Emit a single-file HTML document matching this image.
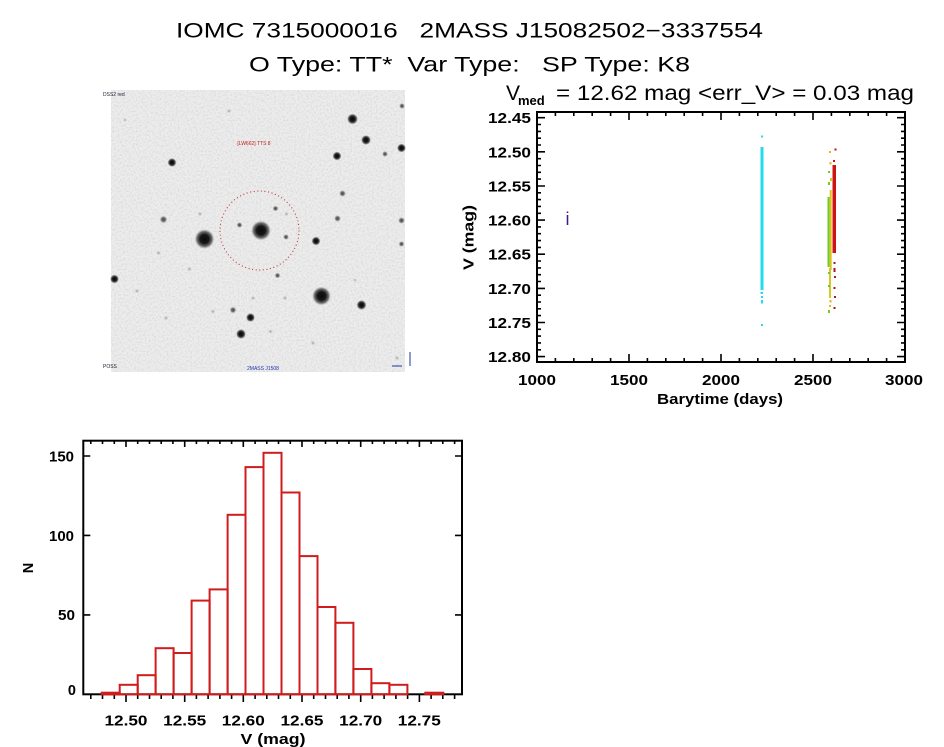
<!DOCTYPE html>
<html><head><meta charset="utf-8"><style>
html,body{margin:0;padding:0;background:#fff;}
svg{display:block;}
text{font-family:"Liberation Sans",Arial,sans-serif;}
</style></head><body>
<svg width="944" height="747" viewBox="0 0 944 747" xmlns="http://www.w3.org/2000/svg">
<defs>
<radialGradient id="sd"><stop offset="0" stop-color="#0a0a0a"/><stop offset="0.45" stop-color="#181818"/><stop offset="0.75" stop-color="#444" stop-opacity="0.75"/><stop offset="1" stop-color="#999" stop-opacity="0"/></radialGradient>
<radialGradient id="sm"><stop offset="0" stop-color="#444"/><stop offset="0.5" stop-color="#666" stop-opacity="0.9"/><stop offset="1" stop-color="#aaa" stop-opacity="0"/></radialGradient>
<radialGradient id="sf"><stop offset="0" stop-color="#9a9a9a"/><stop offset="1" stop-color="#c8c8c8" stop-opacity="0"/></radialGradient>
<filter id="nz" x="0" y="0" width="100%" height="100%"><feTurbulence type="fractalNoise" baseFrequency="0.55" numOctaves="2" seed="5"/><feColorMatrix type="matrix" values="0 0 0 0 0.45  0 0 0 0 0.45  0 0 0 0 0.45  0 0 0 0.75 -0.3"/></filter>
</defs>

<!-- Titles -->
<text x="176" y="37.5" font-size="21" textLength="587" lengthAdjust="spacingAndGlyphs" style="white-space:pre">IOMC 7315000016   2MASS J15082502−3337554</text>
<text x="249" y="71.5" font-size="21" textLength="441" lengthAdjust="spacingAndGlyphs" style="white-space:pre">O Type: TT*  Var Type:   SP Type: K8</text>

<!-- Sky image -->
<rect x="111" y="90" width="294" height="282" fill="#ededed"/>
<rect x="111" y="90" width="294" height="282" filter="url(#nz)"/>
<g>
<circle cx="261" cy="230.5" r="10" fill="url(#sd)"/>
<circle cx="204.5" cy="239" r="10" fill="url(#sd)"/>
<circle cx="321.5" cy="296" r="9.5" fill="url(#sd)"/>
<circle cx="352.5" cy="119" r="5.5" fill="url(#sd)"/>
<circle cx="366" cy="140" r="5" fill="url(#sd)"/>
<circle cx="337" cy="156" r="4.5" fill="url(#sd)"/>
<circle cx="401.5" cy="148" r="4.5" fill="url(#sd)"/>
<circle cx="172" cy="162.5" r="4.5" fill="url(#sd)"/>
<circle cx="316" cy="241" r="4.5" fill="url(#sd)"/>
<circle cx="361.5" cy="305" r="5" fill="url(#sd)"/>
<circle cx="250.5" cy="317.5" r="4.5" fill="url(#sd)"/>
<circle cx="241" cy="334" r="5" fill="url(#sd)"/>
<circle cx="114.5" cy="279" r="4.5" fill="url(#sd)"/>
<circle cx="163.5" cy="219.5" r="4" fill="url(#sm)"/>
<circle cx="342.5" cy="193.5" r="3.5" fill="url(#sm)"/>
<circle cx="337.5" cy="218.5" r="3.5" fill="url(#sm)"/>
<circle cx="401.5" cy="220.5" r="3.5" fill="url(#sm)"/>
<circle cx="233" cy="310" r="3.5" fill="url(#sm)"/>
<circle cx="275.5" cy="208.5" r="3" fill="url(#sm)"/>
<circle cx="286" cy="237" r="3" fill="url(#sm)"/>
<circle cx="239.5" cy="225" r="3" fill="url(#sm)"/>
<circle cx="277.5" cy="275.5" r="3" fill="url(#sm)"/>
<circle cx="401.5" cy="244" r="3" fill="url(#sm)"/>
<circle cx="402" cy="106" r="3" fill="url(#sm)"/>
<circle cx="385" cy="154" r="3" fill="url(#sm)"/>
<circle cx="200" cy="214" r="2.5" fill="url(#sf)"/>
<circle cx="286.5" cy="214" r="2.5" fill="url(#sf)"/>
<circle cx="137" cy="291" r="2.5" fill="url(#sf)"/>
<circle cx="158.5" cy="253" r="2.5" fill="url(#sf)"/>
<circle cx="189.5" cy="269" r="2.5" fill="url(#sf)"/>
<circle cx="229" cy="111" r="2.5" fill="url(#sf)"/>
<circle cx="213" cy="311.5" r="2.5" fill="url(#sf)"/>
<circle cx="270.5" cy="331.5" r="2.5" fill="url(#sf)"/>
<circle cx="253" cy="298" r="2.5" fill="url(#sf)"/>
<circle cx="285" cy="298" r="2.5" fill="url(#sf)"/>
<circle cx="166" cy="318" r="2.5" fill="url(#sf)"/>
<circle cx="397" cy="358" r="2.5" fill="url(#sf)"/>
<circle cx="313" cy="343" r="2.5" fill="url(#sf)"/>
<circle cx="125" cy="120" r="2" fill="url(#sf)"/>
<circle cx="355" cy="280" r="2" fill="url(#sf)"/>
</g>
<circle cx="259.5" cy="230.5" r="39.5" fill="none" stroke="#c02828" stroke-width="1" stroke-dasharray="1 2.6"/>
<text x="254" y="145" font-size="5" fill="#c02020" text-anchor="middle">[LW662] TTS 8</text>
<text x="103" y="96" font-size="5" fill="#223" >DSS2 red</text>
<text x="247" y="370" font-size="5" fill="#2233aa">2MASS J1508</text>
<text x="103" y="368" font-size="5" fill="#223">POSS</text>
<path d="M392 366h10M410 352v14" stroke="#2233aa" stroke-width="1" fill="none"/>

<!-- Light curve -->
<text x="506" y="100" font-size="21">V</text>
<text x="518" y="105" font-size="13" font-weight="bold">med</text>
<text x="556" y="100" font-size="21" textLength="358" lengthAdjust="spacingAndGlyphs">= 12.62 mag &lt;err_V&gt; = 0.03 mag</text>

<!-- data -->
<g>
<rect x="760.5" y="147" width="3" height="143" fill="#22dcec"/>
<rect x="761" y="135.5" width="2" height="2" fill="#22dcec"/>
<rect x="760.5" y="292" width="2.5" height="2" fill="#22dcec"/>
<rect x="761" y="296" width="2" height="2" fill="#22dcec"/>
<rect x="761" y="300" width="2" height="3.5" fill="#22dcec"/>
<rect x="761" y="324" width="2" height="2" fill="#22dcec"/>

<rect x="827.5" y="197" width="2.2" height="70" fill="#6fcc22"/>
<rect x="829.7" y="190" width="2" height="80" fill="#e3c020"/>
<rect x="832.5" y="165" width="3.5" height="88" fill="#cc1414"/>
<rect x="829" y="151" width="2" height="2" fill="#efb030"/>
<rect x="829.5" y="162" width="2" height="2.5" fill="#efb030"/>
<rect x="828" y="171" width="2" height="2" fill="#6fcc22"/>
<rect x="828" y="182" width="2" height="3" fill="#6fcc22"/>
<rect x="830" y="178" width="2" height="3" fill="#e3c020"/>
<rect x="829" y="268" width="2" height="30" fill="#d6c828"/>
<rect x="828" y="272" width="2" height="2" fill="#6fcc22"/>
<rect x="828" y="285" width="2" height="2" fill="#6fcc22"/>
<rect x="829.5" y="300" width="2" height="2.5" fill="#efb030"/>
<rect x="829" y="305" width="2" height="2" fill="#e3c020"/>
<rect x="828" y="310" width="2" height="3" fill="#6fcc22"/>
<rect x="834.5" y="148.5" width="2" height="2" fill="#b01818"/>
<rect x="833" y="160" width="2" height="2" fill="#cc1414"/>
<rect x="833.5" y="262" width="2" height="2" fill="#a81818"/>
<rect x="833.5" y="268" width="2" height="4" fill="#a81818"/>
<rect x="834" y="276" width="2" height="2" fill="#a81818"/>
<rect x="833.5" y="287" width="2" height="2" fill="#a81818"/>
<rect x="834" y="296" width="2" height="2" fill="#a81818"/>
<rect x="833.5" y="307" width="2" height="2" fill="#a81818"/>
</g>
<text x="567.5" y="225" font-size="18" fill="#3b1e8c" text-anchor="middle">i</text>

<!-- LC axes -->
<rect x="537" y="112" width="368" height="250" fill="none" stroke="#000" stroke-width="2"/>
<path stroke="#000" stroke-width="1.6" fill="none" d="M537 117.7h8M537 124.5h4M537 131.4h4M537 138.2h4M537 145h4M537 151.8h8M537 158.7h4M537 165.5h4M537 172.3h4M537 179.1h4M537 186h8M537 192.8h4M537 199.6h4M537 206.4h4M537 213.3h4M537 220.1h8M537 226.9h4M537 233.7h4M537 240.6h4M537 247.4h4M537 254.2h8M537 261h4M537 267.9h4M537 274.7h4M537 281.5h4M537 288.4h8M537 295.2h4M537 302h4M537 308.8h4M537 315.6h4M537 322.5h8M537 329.3h4M537 336.1h4M537 342.9h4M537 349.8h4M537 356.6h8
M905 117.7h-8M905 124.5h-4M905 131.4h-4M905 138.2h-4M905 145h-4M905 151.8h-8M905 158.7h-4M905 165.5h-4M905 172.3h-4M905 179.1h-4M905 186h-8M905 192.8h-4M905 199.6h-4M905 206.4h-4M905 213.3h-4M905 220.1h-8M905 226.9h-4M905 233.7h-4M905 240.6h-4M905 247.4h-4M905 254.2h-8M905 261h-4M905 267.9h-4M905 274.7h-4M905 281.5h-4M905 288.4h-8M905 295.2h-4M905 302h-4M905 308.8h-4M905 315.6h-4M905 322.5h-8M905 329.3h-4M905 336.1h-4M905 342.9h-4M905 349.8h-4M905 356.6h-8
M555.4 362v-4M573.8 362v-4M592.2 362v-4M610.6 362v-4M629 362v-8M647.4 362v-4M665.8 362v-4M684.2 362v-4M702.6 362v-4M721 362v-8M739.4 362v-4M757.8 362v-4M776.2 362v-4M794.6 362v-4M813 362v-8M831.4 362v-4M849.8 362v-4M868.2 362v-4M886.6 362v-4
M555.4 112v4M573.8 112v4M592.2 112v4M610.6 112v4M629 112v8M647.4 112v4M665.8 112v4M684.2 112v4M702.6 112v4M721 112v8M739.4 112v4M757.8 112v4M776.2 112v4M794.6 112v4M813 112v8M831.4 112v4M849.8 112v4M868.2 112v4M886.6 112v4"/>
<g font-size="14.5" font-weight="bold" text-anchor="end">
<text x="531" y="123.2" textLength="43" lengthAdjust="spacingAndGlyphs">12.45</text>
<text x="531" y="157.3" textLength="43" lengthAdjust="spacingAndGlyphs">12.50</text>
<text x="531" y="191.5" textLength="43" lengthAdjust="spacingAndGlyphs">12.55</text>
<text x="531" y="225.6" textLength="43" lengthAdjust="spacingAndGlyphs">12.60</text>
<text x="531" y="259.7" textLength="43" lengthAdjust="spacingAndGlyphs">12.65</text>
<text x="531" y="293.9" textLength="43" lengthAdjust="spacingAndGlyphs">12.70</text>
<text x="531" y="328" textLength="43" lengthAdjust="spacingAndGlyphs">12.75</text>
<text x="531" y="362.1" textLength="43" lengthAdjust="spacingAndGlyphs">12.80</text>
</g>
<g font-size="14.5" font-weight="bold" text-anchor="middle">
<text x="537" y="385" textLength="38" lengthAdjust="spacingAndGlyphs">1000</text>
<text x="629" y="385" textLength="38" lengthAdjust="spacingAndGlyphs">1500</text>
<text x="721" y="385" textLength="38" lengthAdjust="spacingAndGlyphs">2000</text>
<text x="813" y="385" textLength="38" lengthAdjust="spacingAndGlyphs">2500</text>
<text x="904" y="385" textLength="38" lengthAdjust="spacingAndGlyphs">3000</text>
<text x="720" y="404" textLength="126" lengthAdjust="spacingAndGlyphs">Barytime (days)</text>
<text transform="translate(473.5,237.5) rotate(-90)" x="0" y="0" textLength="65" lengthAdjust="spacingAndGlyphs">V (mag)</text>
</g>

<!-- Histogram axes -->
<rect x="83.3" y="440.7" width="378.7" height="253.6" fill="none" stroke="#000" stroke-width="2"/>
<path stroke="#000" stroke-width="1.6" fill="none" d="M90.8 695v4M102.5 695v4M114.3 695v4M126 695v7M137.7 695v4M149.5 695v4M161.2 695v4M172.9 695v4M184.7 695v7M196.4 695v4M208.1 695v4M219.9 695v4M231.6 695v4M243.3 695v7M255.1 695v4M266.8 695v4M278.5 695v4M290.3 695v4M302 695v7M313.7 695v4M325.5 695v4M337.2 695v4M348.9 695v4M360.7 695v7M372.4 695v4M384.1 695v4M395.9 695v4M407.6 695v4M419.4 695v7M431.1 695v4M442.8 695v4M454.6 695v4
M90.8 441v3M102.5 441v3M114.3 441v3M126 441v6M137.7 441v3M149.5 441v3M161.2 441v3M172.9 441v3M184.7 441v6M196.4 441v3M208.1 441v3M219.9 441v3M231.6 441v3M243.3 441v6M255.1 441v3M266.8 441v3M278.5 441v3M290.3 441v3M302 441v6M313.7 441v3M325.5 441v3M337.2 441v3M348.9 441v3M360.7 441v6M372.4 441v3M384.1 441v3M395.9 441v3M407.6 441v3M419.4 441v6M431.1 441v3M442.8 441v3M454.6 441v3
M83.3 614.9h7M83.3 535.4h7M83.3 456h7M462 614.9h-7M462 535.4h-7M462 456h-7"/>
<!-- Histogram bars -->
<g fill="none" stroke="#d01c1c" stroke-width="2">
<rect x="101.7" y="692.7" width="18" height="1.6"/>
<rect x="119.7" y="684.8" width="18" height="9.5"/>
<rect x="137.7" y="675.2" width="17.9" height="19.1"/>
<rect x="155.6" y="648.2" width="18" height="46.1"/>
<rect x="173.6" y="653" width="18" height="41.3"/>
<rect x="191.6" y="600.6" width="18" height="93.7"/>
<rect x="209.6" y="589.4" width="18" height="104.9"/>
<rect x="227.6" y="514.8" width="17.9" height="179.5"/>
<rect x="245.5" y="467.1" width="18" height="227.2"/>
<rect x="263.5" y="452.8" width="18" height="241.5"/>
<rect x="281.5" y="492.5" width="18" height="201.8"/>
<rect x="299.5" y="556.1" width="18" height="138.2"/>
<rect x="317.5" y="607" width="17.9" height="87.3"/>
<rect x="335.4" y="622.8" width="18" height="71.5"/>
<rect x="353.4" y="669" width="18" height="25.3"/>
<rect x="371.4" y="683.2" width="18" height="11.1"/>
<rect x="389.4" y="684.8" width="18" height="9.5"/>
<rect x="425.3" y="692.7" width="18" height="1.6"/>
</g>
<g font-size="14.5" font-weight="bold" text-anchor="end">
<text x="76" y="695">0</text>
<text x="75" y="620" textLength="17" lengthAdjust="spacingAndGlyphs">50</text>
<text x="74" y="541" textLength="25" lengthAdjust="spacingAndGlyphs">100</text>
<text x="74" y="461.7" textLength="25" lengthAdjust="spacingAndGlyphs">150</text>
</g>
<g font-size="14.5" font-weight="bold" text-anchor="middle">
<text x="126" y="725.5" textLength="43" lengthAdjust="spacingAndGlyphs">12.50</text>
<text x="184.7" y="725.5" textLength="43" lengthAdjust="spacingAndGlyphs">12.55</text>
<text x="243.3" y="725.5" textLength="43" lengthAdjust="spacingAndGlyphs">12.60</text>
<text x="302" y="725.5" textLength="43" lengthAdjust="spacingAndGlyphs">12.65</text>
<text x="360.7" y="725.5" textLength="43" lengthAdjust="spacingAndGlyphs">12.70</text>
<text x="419.3" y="725.5" textLength="43" lengthAdjust="spacingAndGlyphs">12.75</text>
<text x="273" y="744" textLength="65" lengthAdjust="spacingAndGlyphs">V (mag)</text>
<text transform="translate(33,568) rotate(-90)" x="0" y="0">N</text>
</g>
</svg>
</body></html>
